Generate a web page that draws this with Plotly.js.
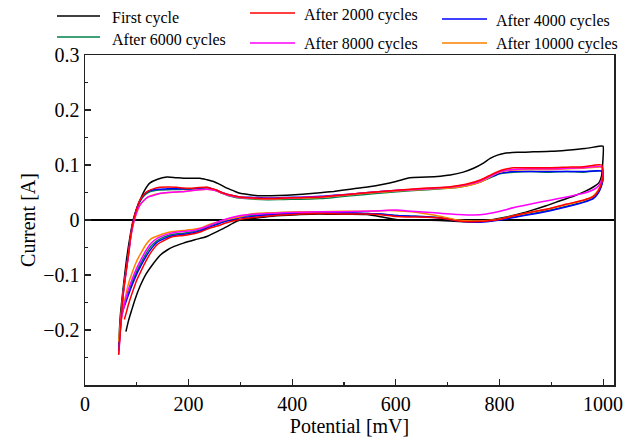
<!DOCTYPE html>
<html>
<head>
<meta charset="utf-8">
<script src="https://cdn.plot.ly/plotly-3.0.1.min.js"></script>
<style>
  html, body { margin: 0; padding: 0; background: #ffffff; }
  #chart { width: 639px; height: 441px; }
</style>
</head>
<body>
<div id="chart"></div>
<script>
// ---------- Data ----------
const seriesLabels = ["First cycle", "After 2000 cycles", "After 4000 cycles",
                      "After 6000 cycles", "After 8000 cycles", "After 10000 cycles"];

// First cycle (black): anodic branch then cathodic branch
const firstUpperPotential = [65, 68, 74, 80, 86, 93, 100, 106, 115, 125, 140, 158, 175, 190, 210, 222, 236, 248, 262, 274, 287, 299, 318, 338, 360, 389, 420, 454, 480, 512, 545, 576, 600, 627, 660, 705, 730, 750, 768, 782, 796, 808, 835, 865, 900, 930, 965, 997];
const firstUpperCurrent = [-0.231, -0.176, -0.121, -0.073, -0.035, 0.0, 0.022, 0.036, 0.054, 0.067, 0.074, 0.078, 0.077, 0.076, 0.076, 0.076, 0.073, 0.070, 0.064, 0.058, 0.053, 0.0485, 0.046, 0.044, 0.044, 0.045, 0.047, 0.0495, 0.052, 0.056, 0.060, 0.065, 0.070, 0.077, 0.078, 0.082, 0.087, 0.094, 0.103, 0.112, 0.118, 0.121, 0.123, 0.124, 0.125, 0.127, 0.130, 0.1345];
const firstLowerPotential = [1000, 999, 997, 992, 981, 965, 945, 920, 890, 860, 830, 801, 775, 755, 737, 705, 685, 650, 620, 600, 576, 544, 510, 479, 454, 415, 380, 351, 325, 299, 285, 274, 255, 235, 212, 190, 172, 158, 145, 132, 118, 106, 97, 90, 84, 79];
const firstLowerCurrent = [0.134, 0.10, 0.08, 0.068, 0.060, 0.052, 0.044, 0.036, 0.026, 0.017, 0.009, 0.003, -0.001, -0.003, -0.003, -0.002, -0.001, 0.0, 0.0, 0.001, 0.005, 0.010, 0.0105, 0.0103, 0.011, 0.010, 0.008, 0.006, 0.003, 0.0, -0.006, -0.012, -0.021, -0.030, -0.036, -0.042, -0.048, -0.055, -0.064, -0.079, -0.098, -0.121, -0.143, -0.164, -0.183, -0.203];

// Shared potential grids for the cycled curves
const cycledUpperPotential = [65, 68, 71, 74, 79, 84, 88, 93, 99, 106, 114, 122, 133, 145, 160, 177, 190, 203, 220, 235, 245, 254, 264, 274, 287, 299, 325, 351, 385, 415, 454, 480, 512, 560, 608, 660, 705, 735, 763, 785, 801, 815, 827, 860, 898, 930, 962, 997];
const cycledLowerPotential = [1000, 999, 996, 990, 981, 962, 930, 898, 865, 830, 801, 775, 750, 720, 690, 660, 630, 600, 570, 540, 500, 454, 415, 380, 350, 320, 300, 285, 270, 255, 240, 225, 210, 190, 170, 155, 140, 128, 118, 108, 100, 92, 85];

// After 2000 cycles (red)
const upper2000 = [-0.245, -0.205, -0.165, -0.133, -0.095, -0.061, -0.030, -0.003, 0.018, 0.036,
  0.047, 0.053, 0.057, 0.0594, 0.060, 0.0594, 0.058, 0.0576, 0.059, 0.0594,
  0.057, 0.0545, 0.050, 0.047, 0.044, 0.042, 0.040, 0.039, 0.040, 0.0406,
  0.042, 0.044, 0.047, 0.051, 0.0545, 0.058, 0.0606, 0.065, 0.0727, 0.083,
  0.0897, 0.093, 0.095, 0.095, 0.095, 0.096, 0.097, 0.100];
const lower2000 = [0.088, 0.075, 0.064, 0.052, 0.0424, 0.036, 0.029, 0.021, 0.015, 0.008,
  0.0012, -0.002, -0.003, -0.002, 0.003, 0.005, 0.0055, 0.0065, 0.0097, 0.011,
  0.011, 0.012, 0.011, 0.009, 0.007, 0.004, 0.0015, -0.002, -0.006, -0.011,
  -0.015, -0.021, -0.025, -0.028, -0.030, -0.036, -0.044, -0.058, -0.074, -0.093,
  -0.109, -0.130, -0.150];
const tailPotential2000 = [80, 76];
const tailCurrent2000 = [-0.167, -0.181];

// After 4000 cycles (blue)
const upper4000 = [-0.238, -0.200, -0.162, -0.130, -0.093, -0.060, -0.030, -0.003, 0.018, 0.035,
  0.046, 0.052, 0.055, 0.056, 0.057, 0.057, 0.057, 0.057, 0.058, 0.059,
  0.057, 0.054, 0.050, 0.047, 0.044, 0.042, 0.041, 0.040, 0.041, 0.0415,
  0.043, 0.045, 0.047, 0.051, 0.054, 0.057, 0.059, 0.063, 0.070, 0.079,
  0.085, 0.087, 0.088, 0.088, 0.088, 0.088, 0.088, 0.089];
const lower4000 = [0.082, 0.070, 0.060, 0.048, 0.039, 0.032, 0.024, 0.017, 0.011, 0.005,
  0.0, -0.003, -0.004, -0.002, 0.003, 0.006, 0.007, 0.008, 0.011, 0.012,
  0.013, 0.013, 0.012, 0.011, 0.009, 0.006, 0.004, 0.001, -0.003, -0.008,
  -0.013, -0.019, -0.023, -0.026, -0.028, -0.033, -0.040, -0.052, -0.066, -0.083,
  -0.098, -0.116, -0.133];
const tailPotential4000 = [78, 72];
const tailCurrent4000 = [-0.152, -0.168];

// After 6000 cycles (green)
const upper6000 = [-0.236, -0.198, -0.160, -0.128, -0.092, -0.060, -0.030, -0.003, 0.017, 0.033,
  0.044, 0.050, 0.053, 0.0545, 0.055, 0.0555, 0.0557, 0.056, 0.057, 0.058,
  0.056, 0.053, 0.049, 0.045, 0.042, 0.040, 0.038, 0.037, 0.0375, 0.0376,
  0.039, 0.041, 0.044, 0.048, 0.052, 0.055, 0.058, 0.062, 0.069, 0.078,
  0.084, 0.086, 0.087, 0.088, 0.087, 0.088, 0.087, 0.089];
const lower6000 = [0.083, 0.071, 0.061, 0.049, 0.040, 0.033, 0.025, 0.018, 0.012, 0.006,
  0.001, -0.002, -0.003, -0.001, 0.004, 0.006, 0.007, 0.008, 0.011, 0.012,
  0.013, 0.013, 0.013, 0.012, 0.010, 0.008, 0.006, 0.003, -0.001, -0.006,
  -0.011, -0.017, -0.021, -0.024, -0.026, -0.030, -0.037, -0.047, -0.061, -0.078,
  -0.093, -0.111, -0.128];
const tailPotential6000 = [78, 71];
const tailCurrent6000 = [-0.148, -0.165];

// After 8000 cycles (magenta)
const upper8000 = [-0.245, -0.205, -0.166, -0.134, -0.097, -0.064, -0.034, -0.008, 0.012, 0.027,
  0.036, 0.042, 0.045, 0.0485, 0.050, 0.051, 0.0515, 0.053, 0.055, 0.0557,
  0.055, 0.053, 0.049, 0.046, 0.043, 0.041, 0.040, 0.039, 0.040, 0.041,
  0.042, 0.044, 0.047, 0.051, 0.054, 0.057, 0.060, 0.064, 0.071, 0.081,
  0.088, 0.091, 0.092, 0.093, 0.093, 0.094, 0.095, 0.097];
const lower8000 = [0.090, 0.080, 0.070, 0.061, 0.055, 0.0485, 0.042, 0.036, 0.030, 0.023,
  0.016, 0.011, 0.009, 0.010, 0.012, 0.014, 0.016, 0.018, 0.017, 0.016,
  0.015, 0.015, 0.014, 0.013, 0.012, 0.010, 0.008, 0.005, 0.001, -0.004,
  -0.010, -0.015, -0.019, -0.021, -0.023, -0.027, -0.033, -0.042, -0.055, -0.072,
  -0.087, -0.105, -0.123];
const tailPotential8000 = [78, 69];
const tailCurrent8000 = [-0.146, -0.185];

// After 10000 cycles (orange)
const upper10000 = [-0.222, -0.190, -0.158, -0.130, -0.096, -0.064, -0.034, -0.008, 0.012, 0.027,
  0.036, 0.042, 0.046, 0.048, 0.050, 0.051, 0.052, 0.053, 0.055, 0.056,
  0.055, 0.053, 0.049, 0.046, 0.043, 0.041, 0.039, 0.038, 0.039, 0.040,
  0.041, 0.043, 0.046, 0.050, 0.053, 0.056, 0.058, 0.062, 0.069, 0.080,
  0.087, 0.090, 0.091, 0.092, 0.092, 0.093, 0.094, 0.096];
const lower10000 = [0.088, 0.076, 0.066, 0.054, 0.044, 0.036, 0.028, 0.021, 0.015, 0.008,
  0.002, -0.001, -0.002, 0.0, 0.006, 0.011, 0.015, 0.017, 0.017, 0.016,
  0.016, 0.015, 0.015, 0.014, 0.013, 0.011, 0.006, 0.003, 0.0, -0.004,
  -0.008, -0.014, -0.017, -0.019, -0.021, -0.024, -0.029, -0.034, -0.044, -0.060,
  -0.074, -0.093, -0.112];
const tailPotential10000 = [78, 71, 65];
const tailCurrent10000 = [-0.140, -0.176, -0.221];

// Axis ticks
const xTickValues = [0, 200, 400, 600, 800, 1000];
const xMinorTickValues = [100, 300, 500, 700, 900];
const yTickValues = [-0.2, -0.1, 0, 0.1, 0.2, 0.3];
const yTickLabels = ["\u22120.2", "\u22120.1", "0", "0.1", "0.2", "0.3"];
const yMinorTickValues = [-0.3, -0.25, -0.15, -0.05, 0.05, 0.15, 0.25];

// ---------- Styles ----------
const seriesColors = ["#000000", "#ff0000", "#0000ff", "#00804a", "#ff00ff", "#ff8000"];
const FONT = "Liberation Serif, Times New Roman, serif";

function loop(upX, upY, lowX, lowY, tailX, tailY) {
  return { x: upX.concat(lowX, tailX), y: upY.concat(lowY, tailY) };
}

const curves = [
  loop(firstUpperPotential, firstUpperCurrent, firstLowerPotential, firstLowerCurrent, [], []),
  loop(cycledUpperPotential, upper2000, cycledLowerPotential, lower2000, tailPotential2000, tailCurrent2000),
  loop(cycledUpperPotential, upper4000, cycledLowerPotential, lower4000, tailPotential4000, tailCurrent4000),
  loop(cycledUpperPotential, upper6000, cycledLowerPotential, lower6000, tailPotential6000, tailCurrent6000),
  loop(cycledUpperPotential, upper8000, cycledLowerPotential, lower8000, tailPotential8000, tailCurrent8000),
  loop(cycledUpperPotential, upper10000, cycledLowerPotential, lower10000, tailPotential10000, tailCurrent10000)
];

// drawing order: black first, red on top
const drawOrder = [0, 3, 2, 5, 4, 1];
const traces = drawOrder.map(i => ({
  type: "scatter", mode: "lines",
  x: curves[i].x, y: curves[i].y,
  name: seriesLabels[i],
  line: { color: seriesColors[i], width: 1.5, shape: "spline", smoothing: 0.6 },
  showlegend: false, hoverinfo: "skip"
}));

// ---------- Custom legend (lines + text), positioned in paper coords ----------
const L = 85, R = 614, T = 55, B = 385;
const px = v => (v - L) / (R - L);
const py = v => (B - v) / (B - T);
const legendPos = [
  { x0: 57, x1: 100, ly: 16, tx: 110, ty: 18 },
  { x0: 250, x1: 295, ly: 13, tx: 302, ty: 15 },
  { x0: 442, x1: 487, ly: 19, tx: 494, ty: 21 },
  { x0: 57, x1: 100, ly: 37, tx: 110, ty: 40 },
  { x0: 250, x1: 295, ly: 43, tx: 302, ty: 44 },
  { x0: 442, x1: 487, ly: 43, tx: 494, ty: 44 }
];
const shapes = legendPos.map((p, i) => ({
  type: "line", xref: "paper", yref: "paper",
  x0: px(p.x0), x1: px(p.x1), y0: py(p.ly), y1: py(p.ly),
  line: { color: seriesColors[i], width: 1.5 }
}));
const annotations = legendPos.map((p, i) => ({
  xref: "paper", yref: "paper", x: px(p.tx), y: py(p.ty),
  xanchor: "left", yanchor: "middle", showarrow: false,
  text: seriesLabels[i], font: { family: FONT, size: 16, color: "#000" }
}));

const layout = {
  width: 639, height: 441,
  margin: { l: L, r: 639 - R, t: T, b: 441 - B },
  paper_bgcolor: "#ffffff", plot_bgcolor: "#ffffff",
  showlegend: false,
  font: { family: FONT, color: "#000" },
  xaxis: {
    range: [0, 1021], tickmode: "array", tickvals: xTickValues,
    ticks: "inside", ticklen: 6, tickwidth: 1.2, tickcolor: "#222",
    minor: { tickmode: "array", tickvals: xMinorTickValues, ticks: "inside", ticklen: 3, tickwidth: 1.2, tickcolor: "#222", showgrid: false },
    showline: true, linecolor: "#222", linewidth: 1.5, mirror: true,
    showgrid: false, zeroline: false,
    tickfont: { family: FONT, size: 20, color: "#000" },
    title: { text: "Potential [mV]", font: { family: FONT, size: 20, color: "#000" }, standoff: 0 }
  },
  yaxis: {
    range: [-0.3, 0.3], tickmode: "array", tickvals: yTickValues, ticktext: yTickLabels,
    ticks: "inside", ticklen: 6, tickwidth: 1.2, tickcolor: "#222",
    minor: { tickmode: "array", tickvals: yMinorTickValues, ticks: "inside", ticklen: 3, tickwidth: 1.2, tickcolor: "#222", showgrid: false },
    showline: true, linecolor: "#222", linewidth: 1.5, mirror: true,
    showgrid: false, zeroline: true, zerolinecolor: "#000", zerolinewidth: 1.5,
    tickfont: { family: FONT, size: 20, color: "#000" },
    title: { text: "Current [A]", font: { family: FONT, size: 20, color: "#000" } }
  },
  shapes: shapes,
  annotations: annotations
};

Plotly.newPlot("chart", traces, layout, { displayModeBar: false, staticPlot: true });
</script>
</body>
</html>
